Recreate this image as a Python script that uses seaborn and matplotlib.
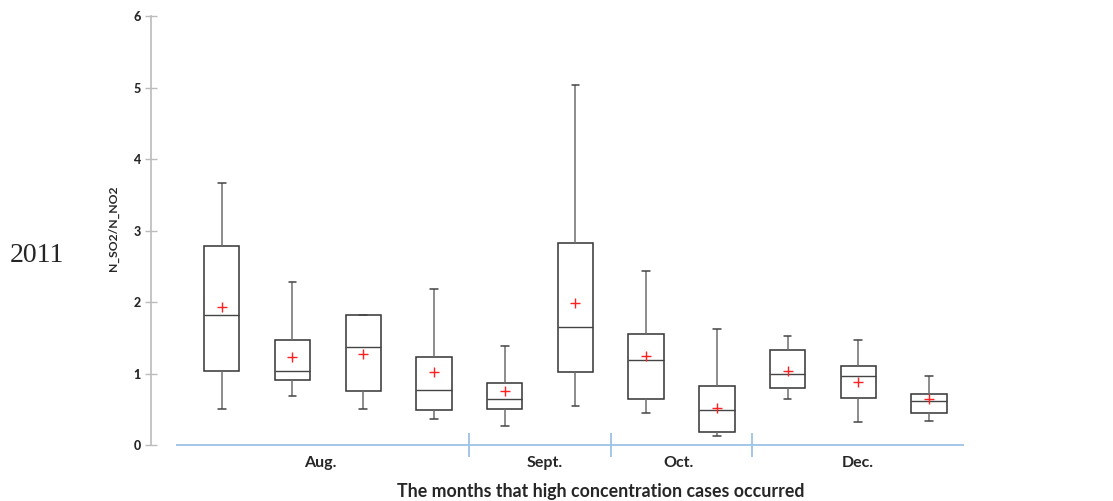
import numpy as np
import pandas as pd
import matplotlib
matplotlib.use("Agg")
import matplotlib.pyplot as plt
import seaborn as sns

# ---- data ----
boxes = ["B1", "B2", "B3", "B4", "B5", "B6", "B7", "B8", "B9", "B10", "B11"]
whisk_lo = [0.51, 0.68, 0.51, 0.36, 0.26, 0.55, 0.45, 0.12, 0.65, 0.32, 0.34]
q1       = [1.04, 0.91, 0.75, 0.49, 0.50, 1.02, 0.64, 0.18, 0.80, 0.66, 0.45]
median   = [1.82, 1.04, 1.37, 0.77, 0.65, 1.65, 1.19, 0.49, 0.99, 0.96, 0.61]
q3       = [2.78, 1.47, 1.82, 1.23, 0.87, 2.83, 1.56, 0.82, 1.33, 1.10, 0.72]
whisk_hi = [3.66, 2.28, 1.82, 2.19, 1.39, 5.04, 2.44, 1.63, 1.53, 1.47, 0.97]
means    = [1.93, 1.23, 1.27, 1.02, 0.75, 1.99, 1.24, 0.52, 1.03, 0.88, 0.65]

months = ["Aug.", "Sept.", "Oct.", "Dec."]
month_pos = [1.39, 4.57, 6.46, 8.99]
separators = [3.5, 5.5, 7.5]
yticks = [0, 1, 2, 3, 4, 5, 6]

# five-number rows per box -> exact quartiles with whiskers at min/max
rows = []
for b, a, c, d, e, f in zip(boxes, whisk_lo, q1, median, q3, whisk_hi):
    for v in (a, c, d, e, f):
        rows.append({"box": b, "value": v})
df = pd.DataFrame(rows)
mean_df = pd.DataFrame({"box": boxes, "mean": means})

sns.set_style("white")
plt.rcParams["font.family"] = ["Lato", "DejaVu Sans"]

fig = plt.figure(figsize=(11.13, 5.01), dpi=100)
ax = fig.add_axes([151 / 1113, 56 / 501, (980 - 151) / 1113, (445 - 16.3) / 501])

sns.boxplot(data=df, x="box", y="value", order=boxes, whis=(0, 100), width=0.5,
            color="white", linecolor="#333333", linewidth=1.1, fliersize=0, ax=ax,
            capwidths=0.11,
            whiskerprops=dict(color="#6e6e6e"), capprops=dict(color="#444444"),
            medianprops=dict(color="#444444", linewidth=1.0))
sns.scatterplot(data=mean_df, x="box", y="mean", marker="+", color="#ff2020",
                s=50, linewidth=1.0, ax=ax, zorder=5, legend=False)

ax.set_xlim(-1.0, 10.72)
ax.set_ylim(0, 6)

# y axis
ax.set_yticks(yticks)
ax.set_yticklabels([str(t) for t in yticks], fontweight="black", fontsize=9)
ax.tick_params(axis="y", direction="inout", length=9, width=1, color="#bbbbbb", pad=3, left=True)
ax.set_ylabel("N_SO2/N_NO2", fontweight="bold", fontsize=8.7)
ax.yaxis.set_label_coords((119 - 151) / (980 - 151), 0.505)

for s in ("top", "right", "bottom"):
    ax.spines[s].set_visible(False)
ax.spines["left"].set_color("#bbbbbb")
ax.spines["left"].set_linewidth(1.2)

# category axis
ax.hlines(0, -0.64, 10.5, color="#9dc3e6", linewidth=1.3, clip_on=False, zorder=1)
ax.vlines(separators, -0.17, 0.17, color="#9dc3e6", linewidth=1.3, clip_on=False, zorder=1)
ax.set_xticks(month_pos)
ax.set_xticklabels(months, fontweight="bold", fontsize=11.5)
ax.tick_params(axis="x", length=0, pad=8)
ax.set_xlabel("")

fig.text(601 / 1113, 1 - 491 / 501, "The months that high concentration cases occurred",
         ha="center", va="center", fontweight="bold", fontsize=12.8)
fig.text(10 / 1113, 1 - 256 / 501, "2011", ha="left", va="center",
         family=["Liberation Serif"], fontsize=20)

fig.savefig("out.png", dpi=100)
